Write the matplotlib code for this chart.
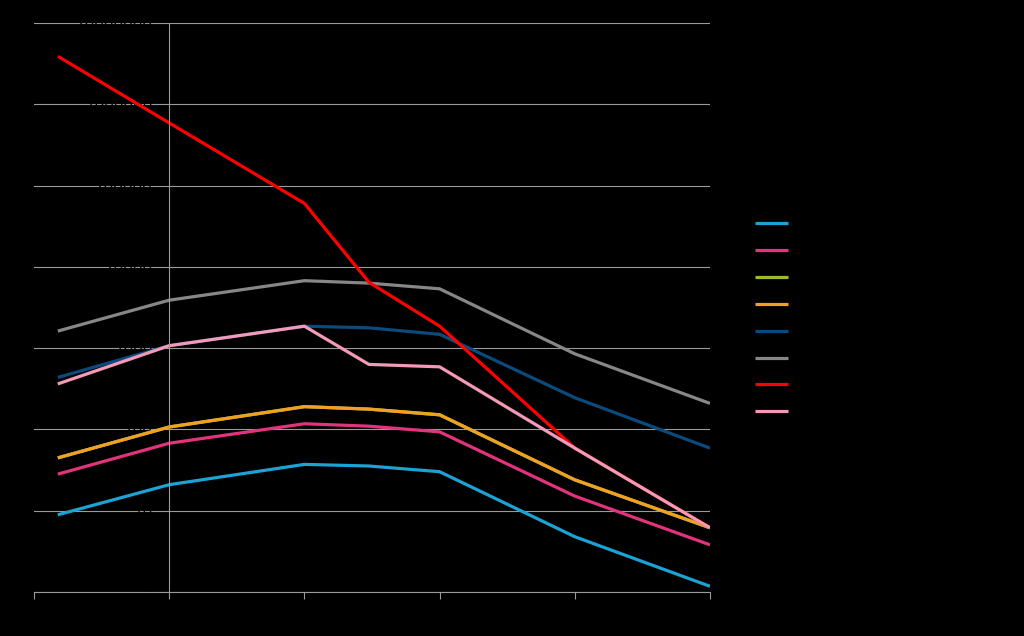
import numpy as np
import matplotlib.pyplot as plt

# x positions (log scale) and series values (log10 of y)
x_vals = [0.15, 1, 10, 30, 100, 1000, 10000]

series_names = ["Series 1", "Series 2", "Series 3", "Series 4",
                "Series 5", "Series 6", "Series 7", "Series 8"]
series_colors = ["#1aa3d4", "#e2337c", "#9cbc2e", "#f0a022",
                 "#0b4a7c", "#878787", "#ff0000", "#f49ab9"]

cyan_log = [0.95, 1.32, 1.57, 1.55, 1.48, 0.68, 0.07]
magenta_log = [1.45, 1.83, 2.07, 2.04, 1.97, 1.18, 0.58]
green_log = [1.65, 2.03, 2.28, 2.25, 2.18, 1.38, 0.79]
orange_log = [1.65, 2.03, 2.28, 2.25, 2.18, 1.38, 0.79]
navy_log = [2.64, 3.03, 3.27, 3.25, 3.17, 2.39, 1.77]
gray_log = [3.21, 3.59, 3.83, 3.80, 3.73, 2.93, 2.32]
red_log = [6.59, 5.77, 4.78, 3.81, 3.27, 1.77, 0.79]
pink_log = [2.56, 3.03, 3.27, 2.80, 2.77, 1.77, 0.79]

all_series = [cyan_log, magenta_log, green_log, orange_log,
              navy_log, gray_log, red_log, pink_log]

y_ticks = [1, 10, 100, 1000, 10000, 100000, 1000000, 10000000]

fig = plt.figure(figsize=(10.24, 6.36), dpi=100, facecolor="black")
ax = fig.add_axes([34 / 1024, 44 / 636, 676 / 1024, 569 / 636])
ax.set_facecolor("black")

for name, col, vals in zip(series_names, series_colors, all_series):
    ax.plot(x_vals, 10 ** np.array(vals), color=col, lw=2.3, label=name,
            solid_capstyle="butt")

ax.set_xscale("log")
ax.set_yscale("log")
ax.set_xlim(0.1, 10000)
ax.set_ylim(1, 10000000)

ax.set_yticks(y_ticks)
ax.set_yticklabels([str(t) for t in y_ticks])
ax.set_xticks([0.1, 1, 10, 100, 1000, 10000])
ax.set_xticklabels(["0.1", "1", "10", "100", "1000", "10000"])
ax.minorticks_off()

ax.grid(axis="y", color="#9a9a9a", lw=0.8)
ax.set_axisbelow(True)

for s in ["top", "right"]:
    ax.spines[s].set_visible(False)
ax.spines["left"].set_position(("data", 1))
ax.spines["left"].set_color("#9a9a9a")
ax.spines["left"].set_linewidth(0.8)
ax.spines["bottom"].set_color("#9a9a9a")
ax.spines["bottom"].set_linewidth(0.8)

ax.tick_params(axis="x", colors="#9a9a9a", direction="out", length=5,
               labelcolor="black", labelsize=11)
ax.tick_params(axis="y", length=0, labelcolor="black", labelsize=11, pad=12)

leg = ax.legend(loc="center left", bbox_to_anchor=(1.046, 0.4815), frameon=False,
                handlelength=2.2, labelspacing=0.78, fontsize=11)
for t in leg.get_texts():
    t.set_color("black")

fig.savefig("out.png", dpi=100, facecolor="black")
